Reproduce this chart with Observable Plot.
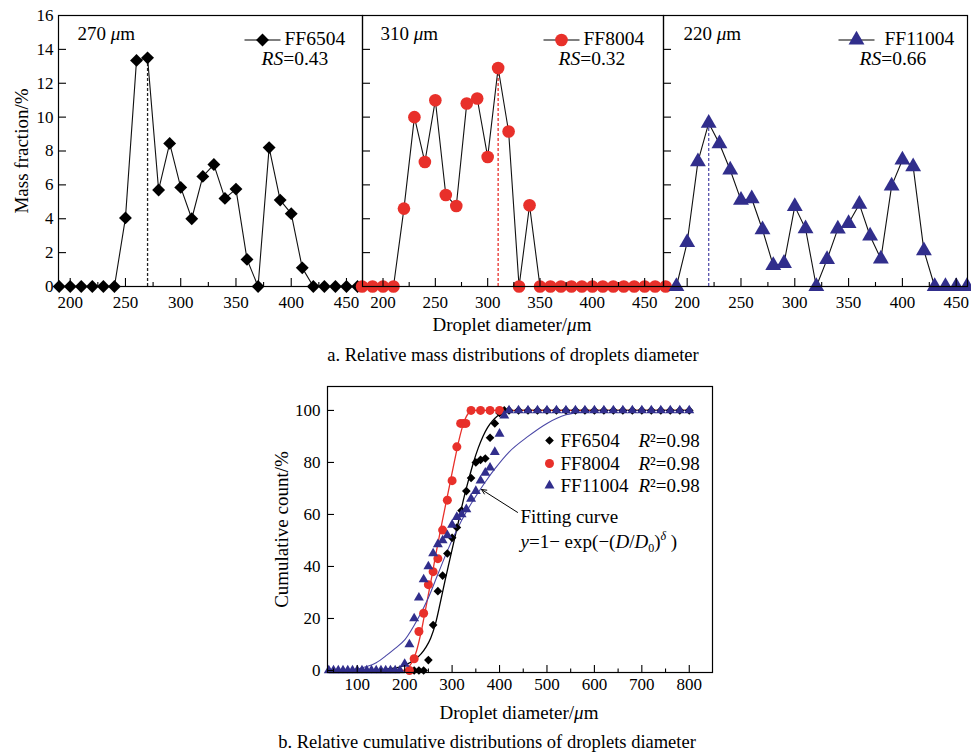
<!DOCTYPE html>
<html>
<head>
<meta charset="utf-8">
<script src="https://cdn.jsdelivr.net/npm/d3@7"></script>
<script src="https://cdn.jsdelivr.net/npm/@observablehq/plot@0.6"></script>
<style>
  body { margin: 0; background: #fff; }
  #root { position: relative; width: 971px; height: 752px; background: #fff;
          font-family: "Liberation Serif", "Times New Roman", Times, serif; color: #000; }
  #root svg text { font-family: "Liberation Serif", "Times New Roman", Times, serif; }
  .lbl { position: absolute; white-space: nowrap; transform: translate(-50%, -50%); line-height: 1; }
</style>
</head>
<body>
<div id="root"></div>
<script>
// ---------------- DATA ----------------
// a. Relative mass distributions (%), diameter in µm
const diamFF6504 = [190,200,210,220,230,240,250,260,270,280,290,300,310,320,330,340,350,360,370,380,390,400,410,420,430,440,450,460];
const massFF6504 = [0,0,0,0,0,0,4.05,13.35,13.5,5.7,8.45,5.85,4.0,6.5,7.2,5.2,5.75,1.6,0,8.2,5.1,4.3,1.1,0,0,0,0,0];
const diamFF8004 = [180,190,200,210,220,230,240,250,260,270,280,290,300,310,320,330,340,350,360,370,380,390,400,410,420,430,440,450,460,470];
const massFF8004 = [0,0,0,0,4.6,10.0,7.35,11.0,5.4,4.75,10.8,11.1,7.65,12.9,9.15,0,4.8,0,0,0,0,0,0,0,0,0,0,0,0,0];
const diamFF11004 = [190,200,210,220,230,240,250,260,270,280,290,300,310,320,330,340,350,360,370,380,390,400,410,420,430,440,450,460];
const massFF11004 = [0,2.6,7.37,9.65,8.43,6.88,5.1,5.18,3.35,1.24,1.37,4.73,3.41,0,1.6,3.4,3.73,4.86,2.98,1.63,5.94,7.47,7.08,2.12,0,0,0,0];

const seriesNames = ["FF6504", "FF8004", "FF11004"];
const peakDiam = [270, 310, 220];
const peakMass = [13.5, 12.9, 9.65];
const rsValues = ["0.43", "0.32", "0.66"];

const xTicksA = [200, 250, 300, 350, 400, 450];
const xMinorA = [225, 275, 325, 375, 425];
const yTicksA = [0, 2, 4, 6, 8, 10, 12, 14, 16];
const yInnerA = [2, 4, 6, 8, 10, 12, 14];

// b. Relative cumulative distributions (%)
const cumX_FF6504 = [220,230,240,250,260,270,280,290,300,310,320,330,340,350,360,370,380,390,400,410,420,440,460,480,500,520,540,560,580,600,620,640,660,680,700,720,740,760,780,800];
const cumY_FF6504 = [0,0,0,4,17.5,30.5,36.5,45,51,55,61.5,69,74,80,81,81.5,89.5,95,99,100,100,100,100,100,100,100,100,100,100,100,100,100,100,100,100,100,100,100,100,100];
const cumX_FF8004 = [210,220,230,240,250,260,270,280,290,300,310,318,324,329,340,360,380,400];
const cumY_FF8004 = [0,4.5,15,22,33,38,43,54,65.5,73,86,95,95,95,100,100,100,100];
const cumX_FF11004 = [40,50,60,70,80,90,100,110,120,130,140,150,160,170,180,190,200,210,220,230,240,250,260,270,280,290,300,310,320,330,340,350,360,370,380,390,400,410,420,440,460,480,500,520,540,560,580,600,620,640,660,680,700,720,740,760,780,800];
const cumY_FF11004 = [0,0,0,0,0,0,0,0,0,0,0,0,0,0,0,0,2.5,10,20,28,35,40,45,48.5,50,52,56,59,60,62,66,69,73,76,78,84,91,98,100,100,100,100,100,100,100,100,100,100,100,100,100,100,100,100,100,100,100,100];

// fitting curves, points
const fitX_FF6504 = [40,100,140,170,200,220,235,245,255,265,275,285,295,305,315,325,335,345,355,365,375,385,395,405,420,440,800];
const fitY_FF6504 = [0,0,0.2,0.7,2,4,6.5,9,12.5,18,26,34.5,42.5,50.5,58.5,66.5,73.5,80,85.5,90,93.5,96,97.8,99,99.7,100,100];
const fitX_FF8004 = [150,195,205,215,225,235,245,255,265,275,285,295,305,315,325,335,345,800];
const fitY_FF8004 = [0,0,0.8,3,7.5,15,24.5,34,44,53.5,62.5,71.5,80.5,89,95.5,99,100,100];
const fitX_FF11004 = [40,90,120,140,163,180,201,227,250,270,290,310,330,350,370,390,420,460,500,540,580,620,800];
const fitY_FF11004 = [0,0.3,1.5,3,6,8.5,12,19.6,28,37,46,54,61,67,72.5,77.5,84,90,95,98.3,99.5,100,100];

const rSquared = ["0.98", "0.98", "0.98"];
const xTicksB = [100, 200, 300, 400, 500, 600, 700, 800];
const xMinorB = [50, 150, 250, 350, 450, 550, 650, 750];
const yTicksB = [0, 20, 40, 60, 80, 100];

// annotation arrow (from the label to the curve), data units
const arrowFrom = [438, 60.8];
const arrowTo = [362, 69.6];

// ---------------- STYLE ----------------
const W = 971;
const RED = "#e8302a", NAVY = "#312e8c", NAVY_LINE = "#4a47a6";
const FF = "Liberation Serif";
const root = document.getElementById("root");

function lineSym(half) {
  return { draw(ctx) { ctx.moveTo(-half, 0); ctx.lineTo(half, 0); } };
}

function enrich(svg) {
  svg.querySelectorAll("text").forEach(t => {
    t.setAttribute("font-family", FF);
    if (t.children.length) return;
    const s = t.textContent;
    let h = null;
    if (/^\d+ μm$/.test(s)) h = s.replace("μ", '<tspan font-style="italic">μ</tspan>');
    else if (s.startsWith("RS=")) h = '<tspan font-style="italic">RS</tspan>' + s.slice(2);
    else if (s.startsWith("R²=")) h = '<tspan font-style="italic">R</tspan>' + s.slice(1);
    else if (s === "FORMULA")
      h = '<tspan font-style="italic">y</tspan>=1− exp(−(<tspan font-style="italic">D</tspan>/<tspan font-style="italic">D</tspan>' +
          '<tspan font-size="12" dy="4">0</tspan><tspan dy="-4">)</tspan>' +
          '<tspan font-size="12" font-style="italic" dy="-8">δ</tspan><tspan dy="8"> )</tspan>';
    if (h) t.innerHTML = h;
  });
}

function place(svg) {
  svg.setAttribute("font-family", FF);
  enrich(svg);
  root.appendChild(svg);
}

// ---------------- PANELS a ----------------
const panelCfg = [
  {xs: diamFF6504, ys: massFF6504, domain: [189.4, 464.5], left: 58, right: 362, symbol: "diamond2", r: 5.8, fill: "#000", dash: "#222",
   sizeDx: 19, legDx: 204, nameDx: 226, rsDx: 203, showY: true},
  {xs: diamFF8004, ys: massFF8004, domain: [180.4, 468], left: 362, right: 663, symbol: "circle", r: 6.3, fill: RED, dash: RED,
   sizeDx: 18, legDx: 199, nameDx: 221, rsDx: 196, showY: false},
  {xs: diamFF11004, ys: massFF11004, domain: [178, 460.5], left: 663, right: 967, symbol: "triangle", r: 5.9, fill: NAVY, dash: "#5753ad",
   sizeDx: 20, legDx: 193, nameDx: 221, rsDx: 196, showY: false}
];

const TOPH = 330, MT = 15, MB = TOPH - 286;
panelCfg.forEach((c, i) => {
  const frameW = c.right - c.left, frameH = TOPH - MT - MB;
  const data = c.xs.map((x, k) => ({x, y: c.ys[k]}));
  const marks = [
    Plot.ruleX([{x: peakDiam[i], y: peakMass[i]}], {x: "x", y1: 0, y2: "y", stroke: c.dash, strokeWidth: 1.3, strokeDasharray: "3,2"}),
    Plot.line(data, {x: "x", y: "y", stroke: "#111", strokeWidth: 1.1}),
    Plot.dot(data, {x: "x", y: "y", symbol: c.symbol, r: c.r, fill: c.fill, stroke: "none"}),
    Plot.ruleX(xTicksA, {x: d => d, insetTop: frameH - 8, stroke: "#000", strokeWidth: 1.1}),
    Plot.ruleX(xMinorA, {x: d => d, insetTop: frameH - 4, stroke: "#000", strokeWidth: 1.1}),
    Plot.ruleY(yInnerA, {y: d => d, insetRight: frameW - 8, stroke: "#000", strokeWidth: 1.1}),
    Plot.axisX(xTicksA, {tickSize: 0, tickPadding: 9, label: null, fontSize: 17, fontFamily: FF}),
    Plot.frame({stroke: "#000", strokeWidth: 1.2}),
    // annotations / legend
    Plot.text([`${peakDiam[i]} μm`], {text: d => d, frameAnchor: "top-left", dx: c.sizeDx, dy: 18.5, textAnchor: "start", lineAnchor: "middle", fontSize: 19, fontFamily: FF}),
    Plot.dot([0], {frameAnchor: "top-left", dx: c.legDx, dy: 24.5, symbol: lineSym(18), stroke: "#000", strokeWidth: 1.2, fill: "none"}),
    Plot.dot([0], {frameAnchor: "top-left", dx: c.legDx, dy: 24.5, symbol: c.symbol, r: c.r, fill: c.fill, stroke: "none"}),
    Plot.text([seriesNames[i]], {text: d => d, frameAnchor: "top-left", dx: c.nameDx, dy: 23.5, textAnchor: "start", lineAnchor: "middle", fontSize: 19.5, fontFamily: FF}),
    Plot.text([`RS=${rsValues[i]}`], {text: d => d, frameAnchor: "top-left", dx: c.rsDx, dy: 43, textAnchor: "start", lineAnchor: "middle", fontSize: 19.5, fontFamily: FF})
  ];
  if (c.showY) {
    marks.push(Plot.axisY(yTicksA, {tickSize: 0, tickPadding: 5, label: null, fontSize: 17, fontFamily: FF}));
    marks.push(Plot.text(["Mass fraction/%"], {text: d => d, frameAnchor: "left", rotate: -90, dx: -37, textAnchor: "middle", lineAnchor: "middle", fontSize: 19, fontFamily: FF}));
  }
  const svg = Plot.plot({
    width: W, height: TOPH,
    marginLeft: c.left, marginRight: W - c.right, marginTop: MT, marginBottom: MB,
    x: {domain: c.domain},
    y: {domain: [0, 16], axis: c.showY ? undefined : null},
    style: {position: "absolute", left: "0px", top: "0px", background: "transparent", overflow: "visible", fontFamily: FF, fontSize: "17px", color: "#000"},
    marks
  });
  place(svg);
});

// ---------------- CHART b ----------------
const BT = 380, BH = 330, BL = 327, BR = 712, BTOP = 386, BBOT = 672;
{
  const frameW = BR - BL, frameH = BBOT - BTOP;
  const cum = [
    {xs: cumX_FF6504, ys: cumY_FF6504, fx: fitX_FF6504, fy: fitY_FF6504, symbol: "diamond2", r: 3.9, fill: "#000", line: "#000", lw: 1.3},
    {xs: cumX_FF8004, ys: cumY_FF8004, fx: fitX_FF8004, fy: fitY_FF8004, symbol: "circle", r: 4.5, fill: RED, line: RED, lw: 1.3},
    {xs: cumX_FF11004, ys: cumY_FF11004, fx: fitX_FF11004, fy: fitY_FF11004, symbol: "triangle", r: 3.7, fill: NAVY, line: NAVY_LINE, lw: 1.1}
  ];
  const marks = [];
  cum.forEach(s => {
    const fit = s.fx.map((x, k) => ({x, y: s.fy[k]}));
    marks.push(Plot.line(fit, {x: "x", y: "y", stroke: s.line, strokeWidth: s.lw, curve: "monotone-x"}));
  });
  cum.forEach(s => {
    const pts = s.xs.map((x, k) => ({x, y: s.ys[k]}));
    marks.push(Plot.dot(pts, {x: "x", y: "y", symbol: s.symbol, r: s.r, fill: s.fill, stroke: "none"}));
  });
  const legDy = [54, 77, 99];
  cum.forEach((s, i) => {
    marks.push(Plot.dot([0], {frameAnchor: "top-left", dx: 222, dy: legDy[i], symbol: s.symbol, r: s.r, fill: s.fill, stroke: "none"}));
    marks.push(Plot.text([seriesNames[i]], {text: d => d, frameAnchor: "top-left", dx: 233, dy: legDy[i], textAnchor: "start", lineAnchor: "middle", fontSize: 19, fontFamily: FF}));
    marks.push(Plot.text([`R²=${rSquared[i]}`], {text: d => d, frameAnchor: "top-left", dx: 311, dy: legDy[i], textAnchor: "start", lineAnchor: "middle", fontSize: 19, fontFamily: FF}));
  });
  marks.push(
    Plot.arrow([{x1: arrowFrom[0], y1: arrowFrom[1], x2: arrowTo[0], y2: arrowTo[1]}], {x1: "x1", y1: "y1", x2: "x2", y2: "y2", stroke: "#000", strokeWidth: 1, headLength: 8, headAngle: 50}),
    Plot.text(["Fitting curve"], {text: d => d, frameAnchor: "top-left", dx: 193, dy: 130, textAnchor: "start", lineAnchor: "middle", fontSize: 19, fontFamily: FF}),
    Plot.text(["FORMULA"], {text: d => d, frameAnchor: "top-left", dx: 193, dy: 155, textAnchor: "start", lineAnchor: "middle", fontSize: 19, fontFamily: FF}),
    Plot.ruleX(xTicksB, {x: d => d, insetTop: frameH - 7, stroke: "#000", strokeWidth: 1.1}),
    Plot.ruleX(xMinorB, {x: d => d, insetTop: frameH - 3.5, stroke: "#000", strokeWidth: 1.1}),
    Plot.ruleY(yTicksB, {y: d => d, insetRight: frameW - 7, stroke: "#000", strokeWidth: 1.1}),
    Plot.axisX(xTicksB, {tickSize: 0, tickPadding: 5, label: null, fontSize: 17, fontFamily: FF}),
    Plot.axisY(yTicksB, {tickSize: 0, tickPadding: 7, label: null, fontSize: 17, fontFamily: FF}),
    Plot.text(["Cumulative count/%"], {text: d => d, frameAnchor: "left", rotate: -90, dx: -46, textAnchor: "middle", lineAnchor: "middle", fontSize: 19, fontFamily: FF}),
    Plot.frame({stroke: "#000", strokeWidth: 1.2})
  );
  const svg = Plot.plot({
    width: W, height: BH,
    marginLeft: BL, marginRight: W - BR, marginTop: BTOP - BT, marginBottom: BT + BH - BBOT,
    x: {domain: [37.3, 849]},
    y: {domain: [-0.77, 109.2]},
    style: {position: "absolute", left: "0px", top: BT + "px", background: "transparent", overflow: "visible", fontFamily: FF, fontSize: "17px", color: "#000"},
    marks
  });
  place(svg);
}

// ---------------- HTML titles / captions ----------------
function label(html, x, y, size) {
  const d = document.createElement("div");
  d.className = "lbl";
  d.style.left = x + "px"; d.style.top = y + "px"; d.style.fontSize = size + "px";
  d.innerHTML = html;
  root.appendChild(d);
}
label("Droplet diameter/<i>μ</i>m", 512, 324, 19);
label("a. Relative mass distributions of droplets diameter", 513, 355, 18.5);
label("Droplet diameter/<i>μ</i>m", 519, 712, 19);
label("b. Relative cumulative distributions of droplets diameter", 487, 742, 18.5);
</script>
</body>
</html>
